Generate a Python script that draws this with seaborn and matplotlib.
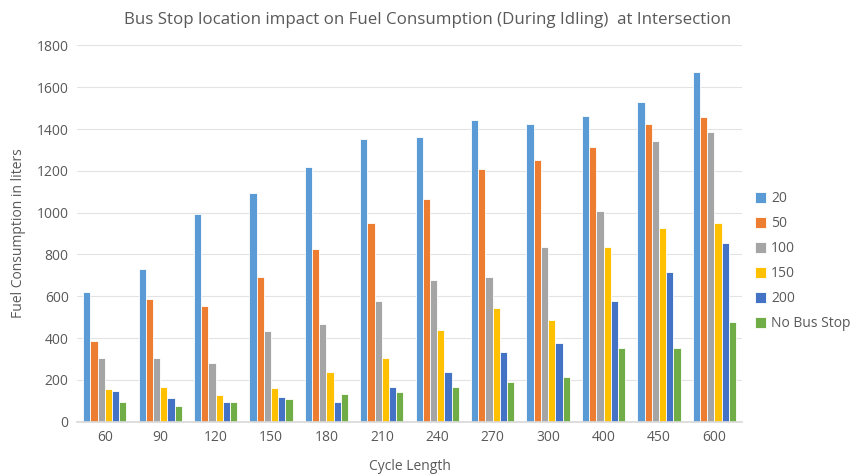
import matplotlib
matplotlib.use("Agg")
import matplotlib.pyplot as plt
import seaborn as sns
import pandas as pd

# Cycle lengths (x categories)
cycle_lengths = ["60", "90", "120", "150", "180", "210", "240", "270", "300", "400", "450", "600"]

# Fuel consumption (liters) per bus stop distance
stop_20 = [622, 733, 993, 1092, 1218, 1350, 1360, 1443, 1423, 1460, 1527, 1674]
stop_50 = [387, 587, 553, 693, 826, 952, 1066, 1207, 1251, 1312, 1425, 1459]
stop_100 = [306, 306, 281, 434, 470, 580, 676, 693, 835, 1006, 1345, 1384]
stop_150 = [159, 167, 129, 164, 239, 306, 438, 542, 486, 834, 926, 950]
stop_200 = [147, 112, 96, 120, 96, 166, 236, 332, 379, 577, 714, 853]
no_stop = [96, 77, 96, 108, 131, 142, 166, 190, 214, 354, 351, 478]

series_names = ["20", "50", "100", "150", "200", "No Bus Stop"]
series_values = [stop_20, stop_50, stop_100, stop_150, stop_200, no_stop]
colors = ["#5B9BD5", "#ED7D31", "#A5A5A5", "#FFC000", "#4472C4", "#70AD47"]

rows = []
for name, vals in zip(series_names, series_values):
    for c, v in zip(cycle_lengths, vals):
        rows.append({"Cycle Length": c, "Fuel": v, "Series": name})
df = pd.DataFrame(rows)

sns.set_theme(style="white")
plt.rcParams["font.family"] = ["Open Sans", "DejaVu Sans"]
text_color = "#595959"

fig = plt.figure(figsize=(8.51, 4.75), dpi=100)
ax = fig.add_axes([0.0905, 0.112, 0.7815, 0.7925])

sns.barplot(data=df, x="Cycle Length", y="Fuel", hue="Series",
            order=cycle_lengths, hue_order=series_names,
            palette=colors, saturation=1, width=0.78,
            edgecolor="white", linewidth=0.6,
            errorbar=None, ax=ax)

ax.set_ylim(0, 1800)
ax.set_yticks(range(0, 1801, 200))
ax.set_xlim(-0.5, len(cycle_lengths) - 0.5)
ax.yaxis.grid(True, color="#E3E3E3", linewidth=0.8)
ax.set_axisbelow(True)
for side in ["top", "right", "left"]:
    ax.spines[side].set_visible(False)
ax.spines["bottom"].set_color("#D9D9D9")
ax.tick_params(axis="both", length=0, labelsize=10, colors=text_color, pad=6)

ax.set_xlabel("Cycle Length", fontsize=10, color=text_color, labelpad=10)
ax.set_ylabel("Fuel Consumption in liters", fontsize=10, color=text_color, labelpad=8)
fig.suptitle("Bus Stop location impact on Fuel Consumption (During Idling)  at Intersection",
             x=0.503, y=0.975, fontsize=12.2, color=text_color)

handles, labels = ax.get_legend_handles_labels()
ax.legend(handles, labels, loc="center left", bbox_to_anchor=(0.872, 0.45),
          bbox_transform=fig.transFigure, frameon=False, fontsize=10,
          handlelength=0.8, handleheight=0.8, handletextpad=0.4,
          labelspacing=0.72, labelcolor=text_color)

fig.savefig("out.png", dpi=100)
